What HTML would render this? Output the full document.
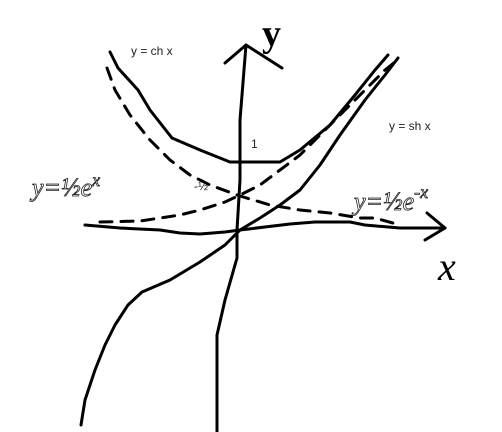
<!DOCTYPE html>
<html><head><meta charset="utf-8"><style>
body{margin:0;background:#fff;width:502px;height:432px;overflow:hidden}
svg{display:block}
.lbl{font-family:"Liberation Sans",sans-serif;font-size:12px;fill:#222}
.hand{font-family:"Liberation Serif",serif;font-style:italic;fill:none;stroke:#222;stroke-width:0.8}
</style></head><body>
<svg id="c" width="502" height="432" xmlns="http://www.w3.org/2000/svg">
<text class="lbl" x="131" y="55">y = ch x</text>
<text class="lbl" x="389" y="130">y = sh x</text>
<text class="lbl" x="251" y="148" font-size="14">1</text>
<text class="lbl" x="194" y="190" font-size="14">-½</text>
<text class="hand" x="32" y="196" font-size="26">y=½e<tspan font-size="18" dy="-10">x</tspan></text>
<text class="hand" x="354" y="210" font-size="26">y=½e<tspan font-size="18" dy="-12">-x</tspan></text>
<text x="438" y="280" font-family="Liberation Serif,serif" font-style="italic" font-size="40" fill="#000">x</text>
<text x="262" y="46" font-family="Liberation Serif,serif" font-size="38" font-weight="bold" fill="#000">y</text>
</svg>
<script>
const yAxisPts=[[217,432],[217,335],[225,300],[237,258],[237,230],[240,180],[240,120],[246,45]];
const xAxisPts=[[85,225],[120,228],[160,230],[180,233],[200,234],[225,232],[240,230],[290,224],[315,222],[350,222],[365,225],[400,228],[445,228]];
const chPts=[[110,52],[118,68],[138,90],[150,110],[172,138],[200,150],[230,162],[240,162],[280,162],[300,150],[330,125],[355,95],[375,70],[388,55]];
const shPts=[[81,425],[85,400],[95,370],[105,345],[115,325],[128,305],[142,292],[170,280],[200,262],[225,245],[240,230],[260,218],[280,205],[300,190],[320,165],[340,135],[365,100],[385,75],[398,58]];
const expPts=[[100,222],[140,221],[180,215],[200,210],[225,202],[240,195],[260,185],[280,170],[300,155],[320,135],[340,115],[365,90],[385,70],[395,62]];
const expNegPts=[[107,68],[115,90],[130,115],[150,140],[170,160],[190,175],[210,185],[240,196],[270,205],[300,210],[330,213],[360,218],[375,218],[400,225]];
const svg=document.getElementById('c');
function line(pts,name,dash){
  const p=document.createElementNS('http://www.w3.org/2000/svg','polyline');
  p.setAttribute('points',pts.map(q=>q.join(',')).join(' '));
  p.setAttribute('fill','none');p.setAttribute('stroke','#000');
  p.setAttribute('stroke-width','3');p.setAttribute('stroke-linejoin','round');p.setAttribute('stroke-linecap','round');
  if(dash)p.setAttribute('stroke-dasharray',dash);
  
  
  svg.appendChild(p);
}
line(yAxisPts,'y-axis');
line(xAxisPts,'x-axis');
line([[225,63],[246,45],[282,68]],'y-axis-arrow');
line([[427,213],[445,228],[425,240]],'x-axis-arrow');
line(chPts,'ch-curve');
line(shPts,'sh-curve');
line(expPts,'half-exp-x-curve','12,9');
line(expNegPts,'half-exp-neg-x-curve','12,9');
</script>
</body></html>
